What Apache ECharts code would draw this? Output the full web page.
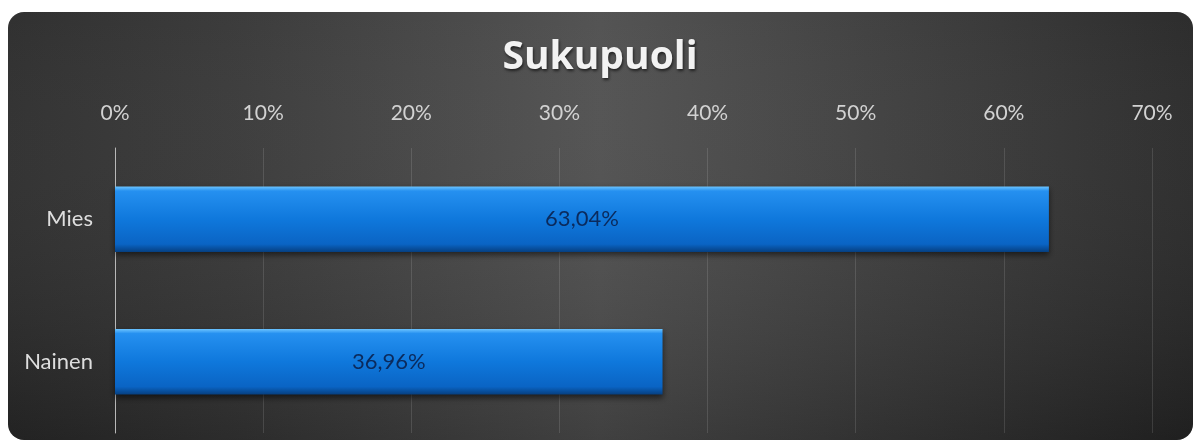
<!DOCTYPE html>
<html>
<head>
<meta charset="utf-8">
<script src="https://cdn.jsdelivr.net/npm/echarts@6/dist/echarts.min.js"></script>
<style>
  html, body { margin: 0; padding: 0; background: #fff; }
  #chart { width: 1200px; height: 448px; }
</style>
</head>
<body>
<div id="chart"></div>
<script>
// data
var categories = ['Mies', 'Nainen'];
var shares = [63.04, 36.96];
var axisMax = 70;
var axisStep = 10;

var chart = echarts.init(document.getElementById('chart'));

var barColor = new echarts.graphic.LinearGradient(0, 0, 0, 1, [
    { offset: 0, color: '#6cc4ff' },
    { offset: 0.07, color: '#2590f0' },
    { offset: 0.5, color: '#0f78dc' },
    { offset: 0.88, color: '#0a64c4' },
    { offset: 1, color: '#063f80' }
]);

// rounded dark panel behind the chart
var panel = { x: 8, y: 12, width: 1185, height: 428, r: 16 };

var option = {
    backgroundColor: '#ffffff',
    graphic: [{
        type: 'rect',
        z: -10,
        silent: true,
        shape: panel,
        style: {
            fill: new echarts.graphic.LinearGradient(0, 0, 1, 0, [
                { offset: 0, color: '#2a2a2a' },
                { offset: 0.2, color: '#363636' },
                { offset: 0.5, color: '#4e4e4e' },
                { offset: 0.8, color: '#363636' },
                { offset: 1, color: '#262626' }
            ])
        }
    }, {
        type: 'rect',
        z: -9,
        silent: true,
        shape: panel,
        style: {
            fill: new echarts.graphic.LinearGradient(0, 0, 0, 1, [
                { offset: 0, color: 'rgba(255,255,255,0.03)' },
                { offset: 1, color: 'rgba(0,0,0,0.18)' }
            ])
        }
    }],
    title: {
        text: 'Sukupuoli',
        left: 'center',
        top: 33,
        textStyle: {
            color: '#f2f2f2',
            fontFamily: 'Open Sans',
            fontWeight: 'bold',
            fontSize: 39,
            textShadowColor: 'rgba(0,0,0,0.6)',
            textShadowBlur: 3,
            textShadowOffsetX: 1,
            textShadowOffsetY: 2
        }
    },
    grid: { left: 115, right: 48, top: 148, bottom: 15 },
    xAxis: {
        type: 'value',
        position: 'top',
        min: 0,
        max: axisMax,
        interval: axisStep,
        axisLine: { show: false },
        axisTick: { show: false },
        axisLabel: {
            color: '#d2d2d2',
            fontFamily: 'Lato',
            fontSize: 21,
            margin: 24,
            formatter: function (v) { return v + '%'; }
        },
        splitLine: { show: true, lineStyle: { color: 'rgba(255,255,255,0.12)', width: 1 } }
    },
    yAxis: {
        type: 'category',
        inverse: true,
        data: categories,
        axisLine: { show: true, lineStyle: { color: '#b8b8b8', width: 1 } },
        axisTick: { show: false },
        axisLabel: {
            color: '#dedede',
            fontFamily: 'Lato',
            fontSize: 22,
            margin: 22
        }
    },
    series: [{
        type: 'bar',
        data: shares,
        barWidth: '46%',
        itemStyle: {
            color: barColor,
            shadowColor: 'rgba(0,0,0,0.55)',
            shadowBlur: 6,
            shadowOffsetY: 3
        },
        label: {
            show: true,
            position: 'inside',
            color: '#0b2a5c',
            fontFamily: 'Lato',
            fontSize: 22,
            formatter: function (p) { return p.value.toFixed(2).replace('.', ',') + '%'; }
        }
    }]
};

chart.setOption(option);
</script>
</body>
</html>
